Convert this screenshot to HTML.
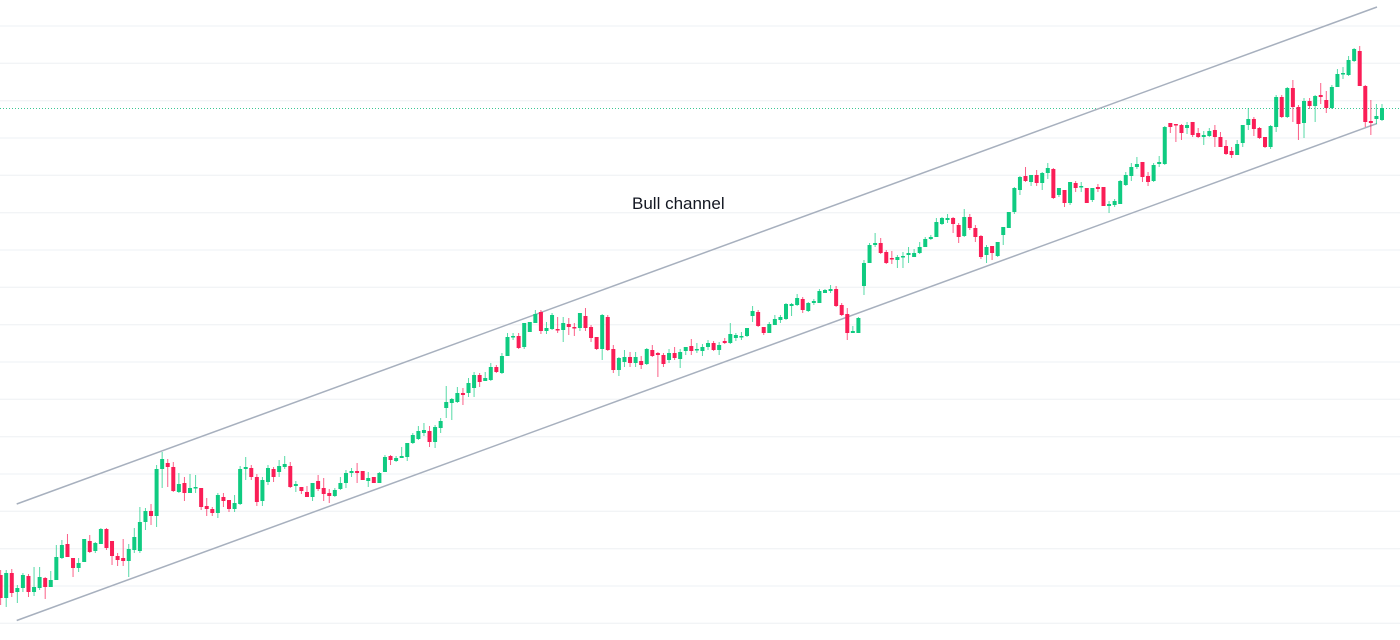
<!DOCTYPE html>
<html><head><meta charset="utf-8"><style>
html,body{margin:0;padding:0;background:#fff;}
svg{display:block;}
</style></head><body>
<svg width="1400" height="640" viewBox="0 0 1400 640" xmlns="http://www.w3.org/2000/svg">
<rect width="1400" height="640" fill="#ffffff"/>
<g stroke="#eef0f4" stroke-width="1">
<path d="M0 26H1400M0 63.3H1400M0 100.7H1400M0 138H1400M0 175.3H1400M0 212.7H1400M0 250H1400M0 287.3H1400M0 324.7H1400M0 362H1400M0 399.3H1400M0 436.7H1400M0 474H1400M0 511.3H1400M0 548.7H1400M0 586H1400M0 623.3H1400"/>
</g>
<line x1="0" y1="108.5" x2="1400" y2="108.5" stroke="#3cc893" stroke-width="1" stroke-dasharray="1 2"/>
<g stroke="#a7b0be" stroke-width="1.5" fill="none">
<line x1="16.7" y1="504" x2="1377" y2="7"/>
<line x1="16.7" y1="620.5" x2="1377" y2="123.5"/>
</g>
<path stroke="#0fcb81" stroke-opacity="0.7" stroke-width="1" fill="none" d="M6.2 570V607 M17.34 585V603 M22.91 573V592 M34.05 567V596 M39.62 567V590 M50.76 571V587 M56.33 545V580 M61.9 540V559 M78.61 558V572 M84.18 539V562 M95.32 542V553 M100.89 528V544 M128.74 544V577 M134.31 528V553 M139.88 507V553 M145.45 508V530 M156.59 465V527 M162.16 452V488 M178.87 473V493 M190.01 474V493 M195.58 475V493 M217.86 493V518 M234.57 495V512 M240.14 466V505 M245.71 457V480 M262.42 477V506 M267.99 465V485 M279.13 460V477 M284.7 456V469 M295.84 481V492 M312.55 483V501 M334.83 488V497 M340.4 477V490 M345.97 470V488 M351.54 468V477 M368.25 472V487 M379.39 472V483 M384.96 455V472 M396.1 456V462 M401.67 447V458 M407.24 443V461 M412.81 433V444 M418.38 426V440 M423.95 423V436 M435.09 425V448 M440.66 418V433 M446.23 386V418 M451.8 398V420 M457.37 387V403 M468.51 378V397 M474.08 372V397 M485.22 372V381 M490.79 363V381 M501.93 353V374 M507.5 333V356 M513.07 333V340 M524.21 323V349 M529.78 322V332 M535.35 310V323 M546.49 322V334 M552.06 313V330 M563.2 317V342 M579.91 313V331 M602.19 314V360 M618.9 357V376 M624.47 350V367 M635.61 352V367 M646.75 348V365 M669.03 349V363 M680.17 349V368 M685.74 347V355 M696.88 343V353 M702.45 344V356 M708.02 340V350 M719.16 342V355 M730.3 323V344 M735.87 333V341 M741.44 332V340 M747.01 328V337 M752.58 306V322 M769.29 322V333 M774.86 315V325 M780.43 315V323 M786 303V320 M791.57 303V316 M797.14 294V306 M808.28 302V312 M813.85 299V305 M819.42 289V303 M824.99 289V293 M830.56 285V293 M852.84 326V333 M858.41 317V333 M863.98 260V295 M869.55 243V263 M875.12 233V247 M897.4 255V268 M902.97 252V268 M908.54 247V263 M914.11 249V257 M919.68 242V254 M925.25 237V247 M930.82 235V240 M936.39 218V237 M941.96 217V225 M947.53 214V223 M964.24 209V237 M986.52 245V263 M997.66 242V257 M1003.23 227V245 M1008.8 212V228 M1014.37 187V214 M1019.94 176V195 M1031.08 175V186 M1042.22 172V190 M1047.79 163V179 M1058.93 188V197 M1070.07 182V205 M1081.21 182V192 M1092.35 188V202 M1109.06 201V213 M1114.63 199V207 M1120.2 180V204 M1125.77 172V186 M1131.34 163V181 M1136.91 157V169 M1153.62 163V182 M1159.19 156V167 M1164.76 126V165 M1187.04 122V134 M1203.75 131V145 M1209.32 128V137 M1237.17 140V155 M1242.74 125V147 M1248.31 108V130 M1270.59 125V149 M1276.16 95V132 M1287.3 87V118 M1304.01 98V138 M1315.15 95V122 M1331.86 85V109 M1337.43 69V87 M1343 67V79 M1348.57 56V76 M1354.14 48V62 M1376.42 104V124 M1381.99 104V121"/>
<path stroke="#fa1d56" stroke-opacity="0.7" stroke-width="1" fill="none" d="M0.63 570V605 M11.77 569V597 M28.48 574V597 M45.19 577V599 M67.47 534V557 M73.04 558V577 M89.75 535V553 M106.46 528V550 M112.03 541V565 M117.6 553V566 M123.17 539V566 M151.02 504V525 M167.73 459V487 M173.3 462V492 M184.44 477V501 M201.15 488V510 M206.72 498V516 M212.29 507V516 M223.43 493V507 M229 500V512 M251.28 465V480 M256.85 474V506 M273.56 467V482 M290.27 462V488 M301.41 487V494 M306.98 486V497 M318.12 475V491 M323.69 478V501 M329.26 489V503 M357.11 463V483 M362.68 471V480 M373.82 477V483 M390.53 455V465 M429.52 426V447 M462.94 388V405 M479.65 373V387 M496.36 365V373 M518.64 333V349 M540.92 310V334 M557.63 317V333 M568.77 318V335 M574.34 323V336 M585.48 308V331 M591.05 325V342 M596.62 337V350 M607.76 315V351 M613.33 345V373 M630.04 352V367 M641.18 356V369 M652.32 345V357 M657.89 352V377 M663.46 353V367 M674.6 347V360 M691.31 339V355 M713.59 341V351 M724.73 338V344 M758.15 310V327 M763.72 327V335 M802.71 297V313 M836.13 286V307 M841.7 303V316 M847.27 308V340 M880.69 238V254 M886.26 250V264 M891.83 251V264 M953.1 217V233 M958.67 223V243 M969.81 214V230 M975.38 225V242 M980.95 235V259 M992.09 246V260 M1025.51 167V182 M1036.65 170V186 M1053.36 168V199 M1064.5 190V207 M1075.64 181V192 M1086.78 188V203 M1097.92 184V192 M1103.49 187V206 M1142.48 162V182 M1148.05 172V186 M1170.33 123V133 M1175.9 124V142 M1181.47 124V140 M1192.61 122V137 M1198.18 128V138 M1214.89 125V147 M1220.46 132V147 M1226.03 140V155 M1231.6 147V158 M1253.88 117V136 M1259.45 127V139 M1265.02 137V148 M1281.73 95V118 M1292.87 80V122 M1298.44 105V140 M1309.58 98V109 M1320.72 83V104 M1326.29 91V113 M1359.71 46V86 M1365.28 85V127 M1370.85 100V135"/>
<path fill="#0fcb81" d="M4.2 573h4v25h-4z M15.34 588h4v4h-4z M20.91 575h4v13h-4z M32.05 587h4v5h-4z M37.62 577h4v11h-4z M48.76 580h4v7h-4z M54.33 557h4v23h-4z M59.9 545h4v13h-4z M76.61 563h4v5h-4z M82.18 539h4v23h-4z M93.32 543h4v8h-4z M98.89 529h4v15h-4z M126.74 549h4v12h-4z M132.31 537h4v13h-4z M137.88 522h4v29h-4z M143.45 511h4v11h-4z M154.59 469h4v47h-4z M160.16 459h4v10h-4z M176.87 484h4v8h-4z M188.01 488h4v5h-4z M193.58 487h4v1.5h-4z M215.86 495h4v18h-4z M232.57 503h4v6h-4z M238.14 469h4v35h-4z M243.71 467h4v2h-4z M260.42 480h4v21h-4z M265.99 468h4v14h-4z M277.13 466h4v6h-4z M282.7 464h4v3h-4z M293.84 484h4v2h-4z M310.55 483h4v14h-4z M332.83 490h4v6h-4z M338.4 483h4v6h-4z M343.97 473h4v10h-4z M349.54 471h4v2h-4z M366.25 478h4v3h-4z M377.39 473h4v10h-4z M382.96 457h4v15h-4z M394.1 458h4v3h-4z M399.67 456h4v2h-4z M405.24 443h4v14h-4z M410.81 435h4v8h-4z M416.38 431h4v8h-4z M421.95 430h4v3h-4z M433.09 427h4v15h-4z M438.66 421h4v7h-4z M444.23 402h4v6h-4z M449.8 399h4v4h-4z M455.37 393h4v9h-4z M466.51 383h4v10h-4z M472.08 375h4v13h-4z M483.22 378h4v3h-4z M488.79 367h4v13h-4z M499.93 356h4v17h-4z M505.5 337h4v19h-4z M511.07 336h4v1.5h-4z M522.21 323h4v24h-4z M527.78 322h4v10h-4z M533.35 314h4v9h-4z M544.49 328h4v3h-4z M550.06 315h4v14h-4z M561.2 323h4v7h-4z M577.91 313h4v15h-4z M600.19 315h4v34h-4z M616.9 358h4v12h-4z M622.47 357h4v5h-4z M633.61 357h4v6h-4z M644.75 349h4v15h-4z M667.03 353h4v7h-4z M678.17 352h4v7h-4z M683.74 347h4v4h-4z M694.88 349h4v1.5h-4z M700.45 347h4v4h-4z M706.02 343h4v4h-4z M717.16 345h4v5h-4z M728.3 334h4v9h-4z M733.87 335h4v3h-4z M739.44 336h4v1.5h-4z M745.01 328h4v8h-4z M750.58 311h4v5h-4z M767.29 324h4v9h-4z M772.86 319h4v6h-4z M778.43 317h4v3h-4z M784 304h4v15h-4z M789.57 304h4v2h-4z M795.14 298h4v7h-4z M806.28 303h4v8h-4z M811.85 301h4v2h-4z M817.42 291h4v12h-4z M822.99 290h4v3h-4z M828.56 289h4v2h-4z M850.84 331h4v2h-4z M856.41 318h4v15h-4z M861.98 263h4v23h-4z M867.55 245h4v18h-4z M873.12 243h4v2h-4z M895.4 257h4v3h-4z M900.97 256h4v1.5h-4z M906.54 253h4v2h-4z M912.11 253h4v4h-4z M917.68 247h4v6h-4z M923.25 239h4v8h-4z M928.82 237h4v2h-4z M934.39 222h4v15h-4z M939.96 218h4v6h-4z M945.53 218h4v2h-4z M962.24 217h4v19h-4z M984.52 247h4v8h-4z M995.66 242h4v14h-4z M1001.23 227h4v8h-4z M1006.8 212h4v16h-4z M1012.37 188h4v24h-4z M1017.94 177h4v13h-4z M1029.08 175h4v7h-4z M1040.22 173h4v10h-4z M1045.79 168h4v5h-4z M1056.93 188h4v7h-4z M1068.07 182h4v21h-4z M1079.21 186h4v1.5h-4z M1090.35 188h4v12h-4z M1107.06 204h4v2h-4z M1112.63 201h4v4h-4z M1118.2 181h4v23h-4z M1123.77 175h4v10h-4z M1129.34 167h4v9h-4z M1134.91 164h4v3h-4z M1151.62 165h4v16h-4z M1157.19 162h4v2h-4z M1162.76 127h4v37h-4z M1185.04 125h4v3h-4z M1201.75 135h4v2h-4z M1207.32 131h4v5h-4z M1235.17 144h4v11h-4z M1240.74 125h4v18h-4z M1246.31 119h4v6h-4z M1268.59 126h4v21h-4z M1274.16 97h4v30h-4z M1285.3 88h4v29h-4z M1302.01 101h4v22h-4z M1313.15 96h4v10h-4z M1329.86 87h4v21h-4z M1335.43 74h4v13h-4z M1341 73h4v1.5h-4z M1346.57 60h4v15h-4z M1352.14 49h4v12h-4z M1374.42 116h4v3h-4z M1379.99 108h4v12h-4z"/>
<path fill="#fa1d56" d="M-1.37 575h4v23h-4z M9.77 573h4v20h-4z M26.48 576h4v16h-4z M43.19 578h4v9h-4z M65.47 544h4v13h-4z M71.04 558h4v10h-4z M87.75 541h4v11h-4z M104.46 529h4v19h-4z M110.03 541h4v15h-4z M115.6 556h4v4h-4z M121.17 558h4v3h-4z M149.02 511h4v5h-4z M165.73 463h4v4h-4z M171.3 467h4v24h-4z M182.44 483h4v10h-4z M199.15 488h4v19h-4z M204.72 506h4v3h-4z M210.29 509h4v4h-4z M221.43 497h4v4h-4z M227 500h4v9h-4z M249.28 468h4v9h-4z M254.85 477h4v25h-4z M271.56 469h4v8h-4z M288.27 466h4v21h-4z M299.41 487h4v4h-4z M304.98 492h4v5h-4z M316.12 481h4v8h-4z M321.69 488h4v6h-4z M327.26 493h4v3h-4z M355.11 471h4v2h-4z M360.68 471h4v9h-4z M371.82 477h4v6h-4z M388.53 456h4v4h-4z M427.52 431h4v11h-4z M460.94 393h4v2h-4z M477.65 375h4v7h-4z M494.36 367h4v5h-4z M516.64 336h4v12h-4z M538.92 312h4v19h-4z M555.63 329h4v1.5h-4z M566.77 324h4v3h-4z M572.34 327h4v1.5h-4z M583.48 316h4v12h-4z M589.05 327h4v11h-4z M594.62 337h4v12h-4z M605.76 317h4v33h-4z M611.33 349h4v21h-4z M628.04 357h4v6h-4z M639.18 361h4v4h-4z M650.32 350h4v6h-4z M655.89 353h4v2h-4z M661.46 355h4v9h-4z M672.6 353h4v5h-4z M689.31 346h4v5h-4z M711.59 343h4v7h-4z M722.73 341h4v2h-4z M756.15 312h4v14h-4z M761.72 327h4v6h-4z M800.71 299h4v11h-4z M834.13 289h4v17h-4z M839.7 305h4v10h-4z M845.27 314h4v19h-4z M878.69 243h4v10h-4z M884.26 252h4v11h-4z M889.83 258h4v1.5h-4z M951.1 218h4v6h-4z M956.67 225h4v12h-4z M967.81 217h4v11h-4z M973.38 228h4v9h-4z M978.95 236h4v21h-4z M990.09 246h4v7h-4z M1023.51 176h4v5h-4z M1034.65 175h4v8h-4z M1051.36 169h4v29h-4z M1062.5 190h4v13h-4z M1073.64 183h4v5h-4z M1084.78 188h4v15h-4z M1095.92 187h4v2h-4z M1101.49 187h4v19h-4z M1140.48 162h4v15h-4z M1146.05 176h4v6h-4z M1168.33 123h4v4h-4z M1173.9 124h4v1.5h-4z M1179.47 125h4v8h-4z M1190.61 122h4v13h-4z M1196.18 133h4v4h-4z M1212.89 130h4v7h-4z M1218.46 137h4v10h-4z M1224.03 146h4v8h-4z M1229.6 151h4v4h-4z M1251.88 119h4v10h-4z M1257.45 128h4v10h-4z M1263.02 137h4v10h-4z M1279.73 97h4v20h-4z M1290.87 88h4v19h-4z M1296.44 107h4v17h-4z M1307.58 101h4v5h-4z M1318.72 95h4v2h-4z M1324.29 100h4v8h-4z M1357.71 51h4v35h-4z M1363.28 86h4v36h-4z M1368.85 121h4v2h-4z"/>
<text x="632" y="209" font-family="'Liberation Sans', Arial, sans-serif" font-size="17" fill="#131722">Bull channel</text>
</svg>
</body></html>
